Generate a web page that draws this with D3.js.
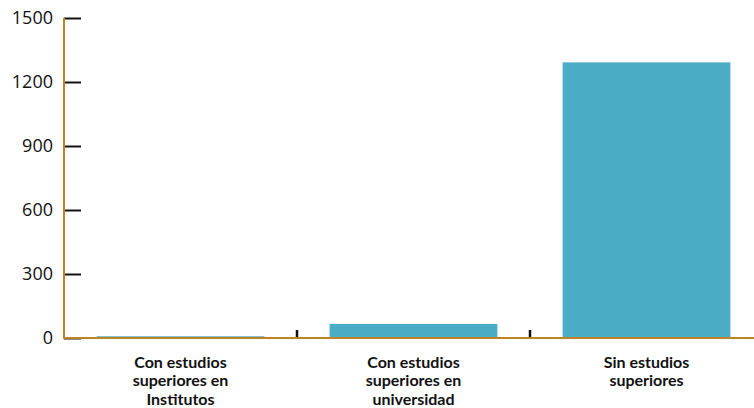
<!DOCTYPE html>
<html>
<head>
<meta charset="utf-8">
<script src="https://cdn.jsdelivr.net/npm/d3@7"></script>
<style>
  html, body { margin: 0; padding: 0; background: #fff; }
  svg { display: block; }
</style>
</head>
<body>
<svg id="chart" width="754" height="408"></svg>
<script>
// Number of people by level of higher education
const categories = [
  ["Con estudios", "superiores en", "Institutos"],
  ["Con estudios", "superiores en", "universidad"],
  ["Sin estudios", "superiores"]
];
const values = [8, 66, 1292];
const yTicks = [0, 300, 600, 900, 1200, 1500];

const svg = d3.select("#chart");
const plotLeft = 64, plotRight = 763, plotTop = 18, plotBottom = 338;

const x = d3.scaleBand()
  .domain(d3.range(categories.length))
  .range([plotLeft, plotRight])
  .paddingInner(0.28)
  .paddingOuter(0.14);

const y = d3.scaleLinear().domain([0, 1500]).range([plotBottom, plotTop]);

const barColor = "#4aacc5";
const axisColor = "#bd8423";

// Bars
svg.append("g").selectAll("rect")
  .data(values)
  .join("rect")
  .attr("x", (d, i) => x(i))
  .attr("width", x.bandwidth())
  .attr("y", d => y(d))
  .attr("height", d => y(0) - y(d))
  .attr("fill", barColor);

// Y axis: ticks drawn inward, labels on the left
const yAxis = svg.append("g")
  .attr("transform", `translate(${plotLeft},0)`)
  .call(d3.axisRight(y).tickValues(yTicks).tickSize(17).tickFormat(""));
yAxis.select(".domain").remove();
yAxis.selectAll(".tick line").attr("stroke", "#111").attr("stroke-width", 2);

svg.append("g").selectAll("text")
  .data(yTicks)
  .join("text")
  .attr("x", 53)
  .attr("y", d => y(d))
  .attr("dy", "0.35em")
  .attr("text-anchor", "end")
  .attr("font-family", "'Open Sans', Lato, sans-serif")
  .attr("font-size", 18)
  .attr("fill", "#111")
  .text(d => d);

// Category separators on the x axis
const bandStep = x.step();
const seps = d3.range(1, categories.length).map(i => x(i) - x.paddingInner() * bandStep / 2);
svg.append("g").selectAll("line")
  .data(seps)
  .join("line")
  .attr("x1", d => d).attr("x2", d => d)
  .attr("y1", plotBottom - 8).attr("y2", plotBottom)
  .attr("stroke", "#111")
  .attr("stroke-width", 2.5);

// Axis lines
svg.append("line")
  .attr("x1", plotLeft).attr("x2", 754)
  .attr("y1", plotBottom).attr("y2", plotBottom)
  .attr("stroke", axisColor).attr("stroke-width", 2);
svg.append("line")
  .attr("x1", plotLeft).attr("x2", plotLeft)
  .attr("y1", plotTop).attr("y2", plotBottom + 1)
  .attr("stroke", axisColor).attr("stroke-width", 2);

// Category labels
const lbl = svg.append("g").selectAll("text")
  .data(categories)
  .join("text")
  .attr("x", (d, i) => x(i) + x.bandwidth() / 2)
  .attr("y", 362)
  .attr("text-anchor", "middle")
  .attr("font-family", "Lato, 'Open Sans', sans-serif")
  .attr("font-weight", "bold")
  .attr("font-size", 16)
  .attr("fill", "#111");
lbl.each(function(lines) {
  d3.select(this).selectAll("tspan")
    .data(lines)
    .join("tspan")
    .attr("x", d3.select(this).attr("x"))
    .attr("dy", (d, j) => j === 0 ? "0.35em" : 18.5)
    .text(d => d);
});
</script>
</body>
</html>
